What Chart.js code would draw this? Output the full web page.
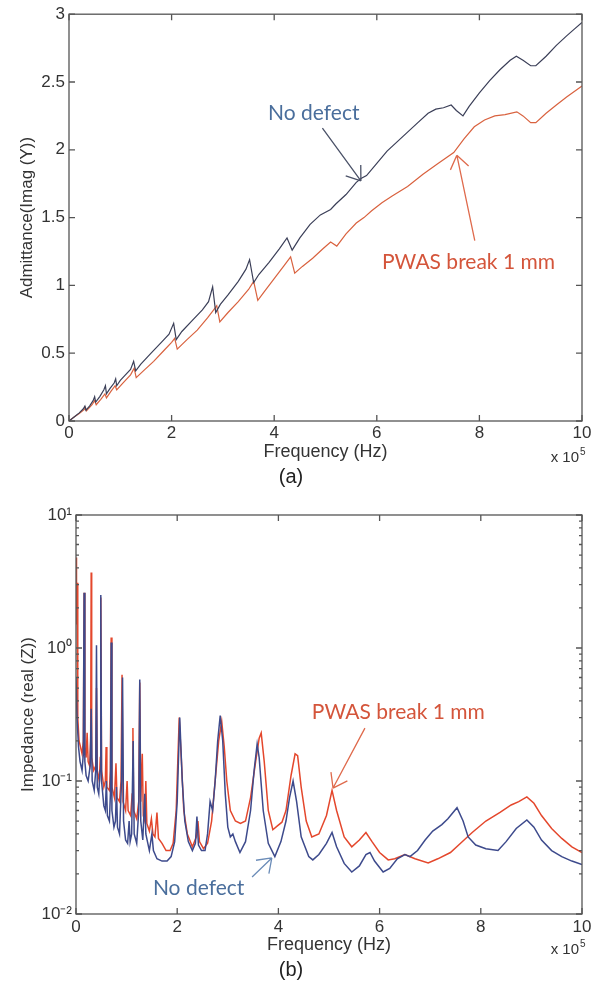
<!DOCTYPE html>
<html>
<head>
<meta charset="utf-8">
<script src="https://cdn.jsdelivr.net/npm/chart.js@4.4.0/dist/chart.umd.min.js"></script>
<style>
body { margin: 0; background: #fff; }
#wrap { position: relative; width: 598px; height: 994px; }
canvas { position: absolute; left: 0; }
</style>
</head>
<body>
<div id="wrap">
<canvas id="chart_adm" width="598" height="490" style="top:0"></canvas>
<canvas id="chart_imp" width="598" height="504" style="top:490px"></canvas>
</div>
<script>
// frequency in units of 1e5 Hz
const admNoDefect = [[0,0],[0.1,0.03],[0.2,0.06],[0.28,0.09],[0.31,0.11],[0.33,0.08],[0.4,0.11],[0.47,0.15],[0.5,0.18],[0.52,0.14],
  [0.6,0.18],[0.68,0.23],[0.71,0.26],[0.73,0.2],[0.8,0.24],[0.88,0.28],[0.91,0.31],[0.93,0.26],[1.0,0.3],[1.1,0.34],
  [1.2,0.38],[1.26,0.44],[1.3,0.37],[1.4,0.42],[1.6,0.5],[1.8,0.58],[1.95,0.64],[2.04,0.72],[2.09,0.6],[2.2,0.66],
  [2.4,0.74],[2.6,0.82],[2.72,0.88],[2.8,0.99],[2.86,0.8],[2.95,0.86],[3.1,0.93],[3.3,1.03],[3.45,1.12],[3.52,1.19],
  [3.6,1.02],[3.7,1.08],[3.9,1.17],[4.1,1.27],[4.25,1.35],[4.35,1.26],[4.5,1.35],[4.7,1.45],[4.9,1.52],[5.1,1.56],
  [5.2,1.6],[5.4,1.67],[5.6,1.76],[5.7,1.79],[5.8,1.81],[6.0,1.9],[6.2,1.99],[6.4,2.06],[6.6,2.13],[6.8,2.2],
  [7.0,2.27],[7.15,2.3],[7.3,2.31],[7.45,2.33],[7.55,2.29],[7.68,2.25],[7.8,2.32],[8.0,2.42],[8.2,2.51],[8.4,2.59],
  [8.6,2.66],[8.72,2.69],[8.85,2.66],[9.0,2.62],[9.1,2.62],[9.3,2.69],[9.5,2.77],[9.7,2.84],[9.85,2.89],[10,2.94]];

const admBreak = [[0,0],[0.1,0.03],[0.2,0.055],[0.3,0.085],[0.32,0.1],[0.34,0.075],[0.45,0.12],[0.5,0.15],[0.53,0.12],[0.62,0.16],
  [0.7,0.2],[0.73,0.17],[0.82,0.22],[0.9,0.26],[0.93,0.23],[1.05,0.28],[1.2,0.34],[1.27,0.39],[1.31,0.32],[1.45,0.37],
  [1.65,0.44],[1.85,0.52],[2.0,0.58],[2.06,0.61],[2.11,0.53],[2.3,0.6],[2.5,0.67],[2.7,0.76],[2.82,0.82],[2.88,0.85],
  [2.94,0.73],[3.1,0.8],[3.3,0.88],[3.5,0.97],[3.6,1.03],[3.68,0.89],[3.8,0.95],[4.0,1.05],[4.2,1.15],[4.32,1.21],
  [4.4,1.09],[4.55,1.14],[4.75,1.2],[4.95,1.27],[5.1,1.32],[5.22,1.29],[5.4,1.38],[5.6,1.46],[5.75,1.5],[5.9,1.55],
  [6.1,1.61],[6.3,1.66],[6.6,1.73],[6.9,1.82],[7.2,1.9],[7.5,1.98],[7.7,2.08],[7.9,2.17],[8.1,2.22],[8.3,2.25],
  [8.5,2.26],[8.73,2.28],[8.85,2.25],[9.0,2.2],[9.1,2.2],[9.3,2.27],[9.5,2.33],[9.7,2.39],[9.85,2.43],[10,2.47]];

const impNoDefect = [[0,0.6],[0.02,0.3],[0.05,0.18],[0.08,0.14],[0.12,0.12],[0.145,0.16],[0.16,2.6],[0.175,0.14],[0.2,0.11],[0.24,0.1],
  [0.28,0.13],[0.3,0.35],[0.32,0.1],[0.36,0.085],[0.39,0.12],[0.405,1.05],[0.42,0.09],[0.45,0.08],[0.475,0.12],[0.49,2.5],
  [0.505,0.1],[0.55,0.065],[0.58,0.06],[0.6,0.1],[0.62,0.055],[0.66,0.05],[0.68,0.08],[0.695,1.1],[0.71,0.06],[0.75,0.045],
  [0.78,0.05],[0.8,0.09],[0.82,0.045],[0.86,0.04],[0.9,0.1],[0.92,0.6],[0.94,0.05],[0.98,0.036],[1.02,0.034],[1.05,0.05],
  [1.07,0.035],[1.1,0.04],[1.13,0.2],[1.15,0.04],[1.2,0.034],[1.24,0.06],[1.26,0.58],[1.28,0.05],[1.32,0.036],[1.36,0.08],
  [1.38,0.04],[1.45,0.03],[1.5,0.04],[1.53,0.03],[1.6,0.026],[1.7,0.025],[1.8,0.025],[1.88,0.027],[1.95,0.035],[2.0,0.07],
  [2.05,0.3],[2.1,0.1],[2.15,0.05],[2.22,0.035],[2.3,0.03],[2.36,0.034],[2.39,0.054],[2.42,0.033],[2.48,0.03],[2.55,0.03],
  [2.6,0.04],[2.65,0.07],[2.7,0.06],[2.75,0.1],[2.8,0.2],[2.85,0.31],[2.9,0.2],[2.95,0.08],[3.0,0.045],[3.05,0.038],
  [3.1,0.04],[3.15,0.035],[3.24,0.029],[3.35,0.035],[3.45,0.06],[3.52,0.12],[3.58,0.19],[3.62,0.15],[3.7,0.06],[3.8,0.034],
  [3.93,0.027],[4.05,0.035],[4.15,0.05],[4.22,0.075],[4.29,0.1],[4.36,0.07],[4.45,0.038],[4.6,0.027],[4.68,0.0255],[4.8,0.028],
  [4.95,0.034],[5.06,0.041],[5.15,0.032],[5.3,0.024],[5.45,0.0207],[5.6,0.023],[5.73,0.028],[5.81,0.029],[5.9,0.025],[6.07,0.0207],
  [6.2,0.022],[6.35,0.026],[6.5,0.028],[6.6,0.027],[6.75,0.03],[6.9,0.036],[7.05,0.042],[7.23,0.047],[7.35,0.052],[7.53,0.063],
  [7.65,0.05],[7.75,0.038],[7.9,0.033],[8.1,0.031],[8.34,0.03],[8.5,0.035],[8.7,0.044],[8.91,0.051],[9.05,0.045],[9.2,0.036],
  [9.4,0.03],[9.6,0.027],[9.8,0.025],[10,0.0235]];

const impBreak = [[0,4.8],[0.01,1.5],[0.02,3.1],[0.035,0.3],[0.06,0.2],[0.09,0.18],[0.12,0.16],[0.145,0.2],[0.16,2.6],[0.175,0.18],
  [0.2,0.15],[0.22,0.23],[0.24,0.14],[0.27,0.13],[0.29,0.2],[0.3,3.7],[0.31,0.15],[0.35,0.12],[0.39,0.13],[0.405,0.5],
  [0.42,0.12],[0.46,0.1],[0.48,0.15],[0.49,2.4],[0.505,0.12],[0.55,0.09],[0.58,0.1],[0.595,0.18],[0.61,0.09],[0.66,0.085],
  [0.68,0.12],[0.695,1.2],[0.71,0.09],[0.76,0.075],[0.79,0.136],[0.81,0.075],[0.86,0.07],[0.89,0.1],[0.91,0.63],[0.93,0.07],
  [0.98,0.06],[1.01,0.1],[1.03,0.06],[1.08,0.055],[1.11,0.08],[1.125,0.25],[1.14,0.06],[1.2,0.052],[1.24,0.07],[1.26,0.55],
  [1.28,0.07],[1.31,0.16],[1.33,0.055],[1.36,0.05],[1.38,0.1],[1.4,0.048],[1.45,0.042],[1.49,0.052],[1.52,0.04],[1.56,0.038],
  [1.6,0.058],[1.63,0.037],[1.7,0.034],[1.78,0.03],[1.86,0.03],[1.92,0.034],[1.98,0.06],[2.04,0.3],[2.08,0.15],[2.13,0.06],
  [2.2,0.04],[2.3,0.032],[2.38,0.038],[2.41,0.05],[2.44,0.035],[2.52,0.031],[2.6,0.034],[2.68,0.05],[2.75,0.1],[2.82,0.2],
  [2.88,0.28],[2.93,0.18],[2.98,0.1],[3.05,0.06],[3.15,0.05],[3.25,0.048],[3.35,0.05],[3.45,0.075],[3.55,0.14],[3.62,0.21],
  [3.66,0.23],[3.72,0.14],[3.8,0.06],[3.89,0.043],[3.98,0.046],[4.07,0.049],[4.15,0.06],[4.25,0.11],[4.33,0.16],[4.38,0.155],
  [4.45,0.09],[4.55,0.05],[4.66,0.038],[4.8,0.04],[4.95,0.055],[5.06,0.085],[5.15,0.06],[5.3,0.038],[5.45,0.032],[5.6,0.036],
  [5.73,0.041],[5.85,0.035],[6.0,0.029],[6.17,0.0255],[6.3,0.026],[6.5,0.028],[6.7,0.026],[6.96,0.0242],[7.15,0.026],[7.4,0.029],
  [7.6,0.034],[7.83,0.041],[8.1,0.05],[8.38,0.058],[8.6,0.066],[8.75,0.07],[8.91,0.076],[9.05,0.068],[9.2,0.055],[9.4,0.044],
  [9.6,0.037],[9.8,0.032],[10,0.029]];

const impTicks = [0.01, 0.1, 1, 10];
const sup = { '-': '\u207B', '0': '\u2070', '1': '\u00B9', '2': '\u00B2' };

const axisFont = { family: '"Liberation Sans", Arial, sans-serif', size: 17 };
const noteFont = '21px Lato, sans-serif';

// box frame with inward ticks, matlab style
const boxTicks = {
    id: 'boxTicks',
    afterDatasetsDraw(chart, args, opts) {
        const { ctx, chartArea: a, scales } = chart;
        ctx.save();
        ctx.strokeStyle = '#555';
        ctx.lineWidth = 1.3;
        ctx.strokeRect(a.left, a.top, a.width, a.height);
        ctx.beginPath();
        scales.x.ticks.forEach(t => {
            const px = scales.x.getPixelForValue(t.value);
            ctx.moveTo(px, a.bottom); ctx.lineTo(px, a.bottom - 6);
            ctx.moveTo(px, a.top); ctx.lineTo(px, a.top + 6);
        });
        scales.y.ticks.forEach(t => {
            const py = scales.y.getPixelForValue(t.value);
            ctx.moveTo(a.left, py); ctx.lineTo(a.left + 6, py);
            ctx.moveTo(a.right, py); ctx.lineTo(a.right - 6, py);
        });
        if (opts.minor) {
            for (let d = -2; d < 1; d++) {
                for (let k = 2; k < 10; k++) {
                    const py = scales.y.getPixelForValue(k * Math.pow(10, d));
                    ctx.moveTo(a.left, py); ctx.lineTo(a.left + 3, py);
                    ctx.moveTo(a.right, py); ctx.lineTo(a.right - 3, py);
                }
            }
        }
        ctx.stroke();
        ctx.restore();
    }
};

// text labels + arrows, given in data units
const notes = {
    id: 'notes',
    afterDraw(chart, args, opts) {
        const { ctx, chartArea: a, scales: { x, y } } = chart;
        (opts.items || []).forEach(n => {
            ctx.save();
            ctx.fillStyle = n.color;
            ctx.strokeStyle = n.color;
            if (n.text) {
                ctx.font = noteFont;
                ctx.textBaseline = 'middle';
                ctx.textAlign = 'left';
                ctx.fillText(n.text, x.getPixelForValue(n.x), y.getPixelForValue(n.y));
            }
            if (n.from) {
                const x0 = x.getPixelForValue(n.from[0]), y0 = y.getPixelForValue(n.from[1]);
                const x1 = x.getPixelForValue(n.to[0]), y1 = y.getPixelForValue(n.to[1]);
                const ang = Math.atan2(y0 - y1, x0 - x1);
                ctx.lineWidth = 1.3;
                ctx.beginPath();
                ctx.moveTo(x0, y0); ctx.lineTo(x1, y1);
                [-0.62, 0.62].forEach(da => {
                    ctx.moveTo(x1, y1);
                    ctx.lineTo(x1 + 16 * Math.cos(ang + da), y1 + 16 * Math.sin(ang + da));
                });
                ctx.stroke();
            }
            ctx.restore();
        });
        // x 10^5 multiplier
        ctx.save();
        ctx.fillStyle = '#333';
        ctx.textBaseline = 'middle';
        ctx.textAlign = 'left';
        ctx.font = '15px "Liberation Sans", Arial, sans-serif';
        const base = 'x 10';
        const w = ctx.measureText(base).width;
        const x0 = a.right - w - 3;
        ctx.fillText(base, x0, a.bottom + opts.expOffset);
        ctx.font = '10px "Liberation Sans", Arial, sans-serif';
        ctx.fillText('5', x0 + w + 1, a.bottom + opts.expOffset - 6);
        ctx.restore();
    }
};

Chart.register(boxTicks, notes);

const ctx = document.getElementById('chart_adm');
const ctx2 = document.getElementById('chart_imp');

new Chart(ctx, { // (a) admittance
    type: 'line',
    data: {
        datasets: [{
            label: 'No defect',
            data: admNoDefect.map(([f, v]) => ({ x: f, y: v })),
            borderColor: '#3b3f58',
            borderWidth: 1.2,
            pointRadius: 0
        },
        {
            label: 'PWAS break 1 mm',
            data: admBreak.map(([f, v]) => ({ x: f, y: v })),
            borderColor: '#d9623f',
            borderWidth: 1.2,
            pointRadius: 0
        }]
    },
    options: {
        responsive: false,
        animation: false,
        devicePixelRatio: 1,
        layout: { padding: { top: 14, right: 16, left: 0, bottom: 0 } },
        scales: {
            x: {
                type: 'linear', min: 0, max: 10,
                ticks: { stepSize: 2, padding: 2, color: '#333', font: axisFont },
                grid: { display: false, drawTicks: false },
                border: { display: false },
                title: { display: true, text: 'Frequency (Hz)', color: '#333', font: { family: axisFont.family, size: 18 }, padding: 0 },
                afterFit: s => { s.height = 42; }
            },
            y: {
                min: 0, max: 3,
                ticks: { stepSize: 0.5, padding: 4, color: '#333', font: axisFont, callback: v => String(v) },
                grid: { display: false, drawTicks: false },
                border: { display: false },
                title: { display: true, text: 'Admittance(Imag (Y))', color: '#333', font: axisFont, padding: { top: 17, bottom: 0 } },
                afterFit: s => { s.width = 69; }
            }
        },
        plugins: {
            legend: { display: false },
            tooltip: { enabled: false },
            title: {
                display: true, position: 'bottom', text: '(a)', color: '#222',
                font: { family: axisFont.family, size: 20, weight: 'normal' },
                padding: { top: 2, bottom: 1 }
            },
            boxTicks: { minor: false },
            notes: {
                expOffset: 37,
                items: [
                    { text: 'No defect', x: 3.88, y: 2.27, color: '#4a6e9c' },
                    { from: [4.94, 2.16], to: [5.69, 1.77], color: '#4b5268' },
                    { text: 'PWAS break 1 mm', x: 6.1, y: 1.17, color: '#d4553b' },
                    { from: [7.91, 1.33], to: [7.56, 1.96], color: '#df6a4c' }
                ]
            }
        }
    }
});

new Chart(ctx2, { // (b) impedance, log scale
    type: 'line',
    data: {
        datasets: [{
            label: 'No defect',
            data: impNoDefect.map(([f, v]) => ({ x: f, y: v })),
            borderColor: '#3d4a8c',
            borderWidth: 1.5,
            pointRadius: 0
        },
        {
            label: 'PWAS break 1 mm',
            data: impBreak.map(([f, v]) => ({ x: f, y: v })),
            borderColor: '#e4472c',
            borderWidth: 1.5,
            pointRadius: 0
        }]
    },
    options: {
        responsive: false,
        animation: false,
        devicePixelRatio: 1,
        layout: { padding: { top: 25, right: 16, left: 0, bottom: 0 } },
        scales: {
            x: {
                type: 'linear', min: 0, max: 10,
                ticks: { stepSize: 2, padding: 3, color: '#333', font: axisFont },
                grid: { display: false, drawTicks: false },
                border: { display: false },
                title: { display: true, text: 'Frequency (Hz)', color: '#333', font: { family: axisFont.family, size: 18 }, padding: 0 },
                afterFit: s => { s.height = 42; }
            },
            y: {
                type: 'logarithmic', min: 0.01, max: 10,
                afterBuildTicks: s => { s.ticks = impTicks.map(v => ({ value: v })); },
                ticks: {
                    padding: 4, color: '#333', font: axisFont,
                    callback: v => '10' + String(Math.round(Math.log10(v))).split('').map(c => sup[c]).join('')
                },
                grid: { display: false, drawTicks: false },
                border: { display: false },
                title: { display: true, text: 'Impedance (real (Z))', color: '#333', font: axisFont, padding: { top: 18, bottom: 0 } },
                afterFit: s => { s.width = 76; }
            }
        },
        plugins: {
            legend: { display: false },
            tooltip: { enabled: false },
            title: {
                display: true, position: 'bottom', text: '(b)', color: '#222',
                font: { family: axisFont.family, size: 20, weight: 'normal' },
                padding: { top: 2, bottom: 12 }
            },
            boxTicks: { minor: true },
            notes: {
                expOffset: 36,
                items: [
                    { text: 'PWAS break 1 mm', x: 4.66, y: 0.33, color: '#d4553b' },
                    { from: [5.71, 0.25], to: [5.08, 0.0885], color: '#df6a4c' },
                    { text: 'No defect', x: 1.52, y: 0.0157, color: '#4a6e9c' },
                    { from: [3.48, 0.019], to: [3.87, 0.0264], color: '#6b8cb8' }
                ]
            }
        }
    }
});
</script>
</body>
</html>
